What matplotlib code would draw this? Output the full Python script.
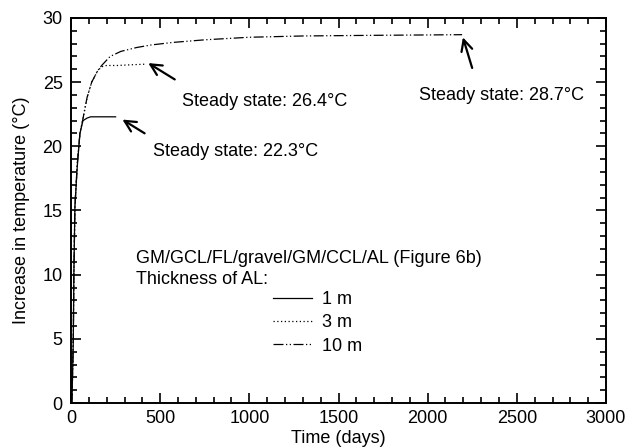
import numpy as np
import matplotlib
matplotlib.use("Agg")
import matplotlib.pyplot as plt
from matplotlib.ticker import MultipleLocator

plt.rcParams["font.family"] = ["Liberation Sans", "DejaVu Sans"]
plt.rcParams["font.size"] = 13

""" curves read off the figure (time in days, temperature rise in C) """
t_1m = [5, 10, 13, 16, 22, 35, 50, 67, 90, 110, 150, 200, 250]
y_1m = [0, 3, 5, 10, 15.3, 18.4, 21.0, 22.0, 22.2, 22.3, 22.3, 22.3, 22.3]

t_3m = [5, 10, 13, 16, 22, 35, 50, 65, 90, 116, 150, 172, 200, 260, 330, 415]
y_3m = [0, 3, 5, 10, 15.3, 18.6, 21.0, 22.0, 23.8, 25.0, 25.9, 26.2, 26.3, 26.3, 26.35, 26.4]

t_10m = [5, 10, 13, 16, 22, 35, 50, 65, 90, 116, 150, 172, 219, 280, 368, 450,
         574, 750, 1000, 1300, 1700, 2193]
y_10m = [0, 3, 5, 10, 15.3, 18.6, 21.0, 22.0, 23.8, 25.0, 25.9, 26.3, 27.0, 27.4,
         27.7, 27.9, 28.1, 28.3, 28.5, 28.6, 28.65, 28.7]

labels = ["1 m", "3 m", "10 m"]

# annotations: (text, arrow tip, arrow tail, text position)
notes = [
    ("Steady state: 22.3°C", (275, 22.2), (426, 20.9), (460, 19.6)),
    ("Steady state: 26.4°C", (420, 26.6), (595, 25.1), (622, 23.5)),
    ("Steady state: 28.7°C", (2193, 28.7), (2254, 25.9), (1952, 23.95)),
]

fig = plt.figure(figsize=(6.29, 4.48), dpi=100)
ax = fig.add_axes([71 / 629, 45 / 448, 535 / 629, 385 / 448])

l1, = ax.plot(t_1m, y_1m, "-k", lw=0.9)
l2, = ax.plot(t_3m, y_3m, color="k", lw=0.9, linestyle=(0, (1, 2)))
l3, = ax.plot(t_10m, y_10m, color="k", lw=0.9, dashes=(8, 2, 1, 2, 1, 2))

for txt, tip, tail, pos in notes:
    ax.annotate("", xy=tip, xytext=tail,
                arrowprops=dict(arrowstyle="->", color="k", lw=1.6,
                                mutation_scale=20))
    ax.text(pos[0], pos[1], txt, va="center", ha="left")

ax.text(365, 10.45, "GM/GCL/FL/gravel/GM/CCL/AL (Figure 6b)\nThickness of AL:",
        va="center", ha="left", linespacing=1.3)

ax.legend([l1, l2, l3], labels, loc="center left", bbox_to_anchor=(0.3776, 0.208),
          frameon=False, borderpad=0, borderaxespad=0, handlelength=2.16,
          handletextpad=0.55, labelspacing=0.35)

ax.set_xlim(0, 3000)
ax.set_ylim(0, 30)
ax.xaxis.set_major_locator(MultipleLocator(500))
ax.xaxis.set_minor_locator(MultipleLocator(100))
ax.yaxis.set_major_locator(MultipleLocator(5))
ax.yaxis.set_minor_locator(MultipleLocator(1))
ax.tick_params(which="both", direction="in", top=True, right=True, width=1.2)
ax.tick_params(which="major", length=7)
ax.tick_params(which="minor", length=4)
ax.tick_params(axis="x", which="major", pad=5)
ax.tick_params(axis="y", which="major", pad=6)
for s in ax.spines.values():
    s.set_linewidth(1.4)

ax.set_xlabel("Time (days)", labelpad=2)
ax.set_ylabel("Increase in temperature (°C)", labelpad=9)

fig.savefig("out.png", dpi=100)
